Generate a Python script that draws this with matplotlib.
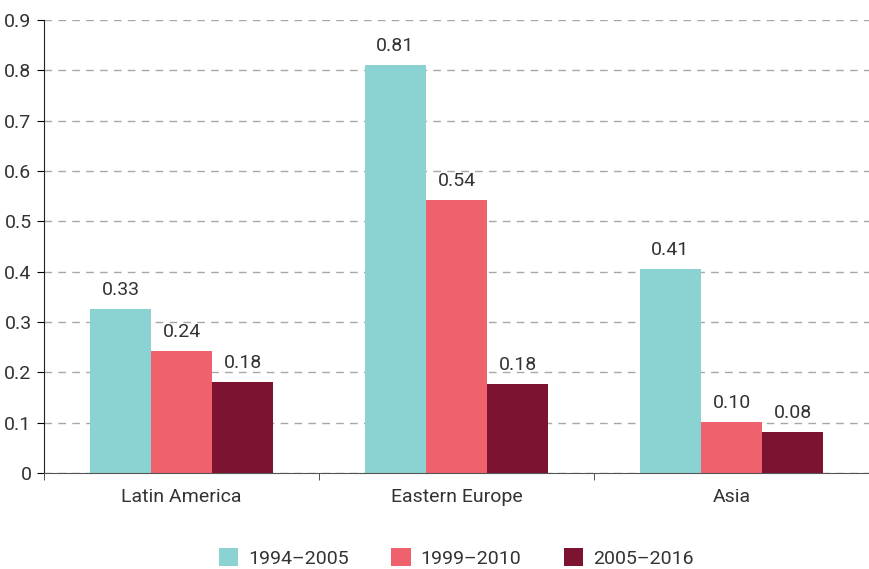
import numpy as np
import matplotlib
matplotlib.use("Agg")
import matplotlib.pyplot as plt

plt.rcParams['font.family'] = ['Liberation Sans Narrow', 'Roboto', 'DejaVu Sans']

regions = ["Latin America", "Eastern Europe", "Asia"]
periods = ["1994\u20132005", "1999\u20132010", "2005\u20132016"]
v_1994 = [0.325, 0.81, 0.405]
v_1999 = [0.243, 0.543, 0.101]
v_2005 = [0.181, 0.176, 0.081]
labels_1994 = ["0.33", "0.81", "0.41"]
labels_1999 = ["0.24", "0.54", "0.10"]
labels_2005 = ["0.18", "0.18", "0.08"]

colors = ["#8bd3d2", "#f0616e", "#7c1331"]
text_col = "#333333"

fig = plt.figure(figsize=(8.69, 5.69), dpi=100)
ax = fig.add_axes([44/869, 1 - 473/569, 1 - 44/869, (473 - 20)/569])

x = np.arange(len(regions))
w = 0.222
series = [(v_1994, labels_1994), (v_1999, labels_1999), (v_2005, labels_2005)]
for k, (vals, labs) in enumerate(series):
    bars = ax.bar(x + (k - 1) * w, vals, w, color=colors[k], label=periods[k], zorder=3)
    for b, lab in zip(bars, labs):
        ax.text(b.get_x() + b.get_width() / 2, b.get_height() + 0.02, lab,
                ha='center', va='bottom', fontsize=14, color=text_col)

ax.set_ylim(0, 0.9)
ax.set_xlim(-0.5, -0.5 + 825/279)
ax.set_yticks(np.arange(0, 0.91, 0.1))
ax.set_yticklabels(["0"] + [f"{v:.1f}" for v in np.arange(0.1, 0.91, 0.1)])
ax.yaxis.grid(True, linestyle=(0, (5.5, 4.5)), color="#a8a8a8", linewidth=1, zorder=0)
ax.set_axisbelow(True)

ax.set_xticks(x)
ax.set_xticklabels(regions)
ax.set_xticks([-0.5, 0.5, 1.5, 2.5], minor=True)
ax.tick_params(axis='x', which='major', length=0, pad=11, labelsize=14, labelcolor=text_col)
ax.tick_params(axis='x', which='minor', length=5, direction='out', color="#333333")
ax.tick_params(axis='y', length=5, direction='out', labelsize=14, labelcolor=text_col, pad=4)

for s in ['top', 'right']:
    ax.spines[s].set_visible(False)
ax.spines['left'].set_color("#222222")
ax.spines['bottom'].set_color("#555555")
ax.spines['bottom'].set_zorder(4)

leg = fig.legend(loc='center', bbox_to_anchor=(0.525, 1 - 558/569), ncol=3, frameon=False,
                 fontsize=14, handlelength=1.0, handleheight=1.0, columnspacing=2.2,
                 handletextpad=0.5, labelcolor=text_col)

fig.savefig("out.png", dpi=100)
